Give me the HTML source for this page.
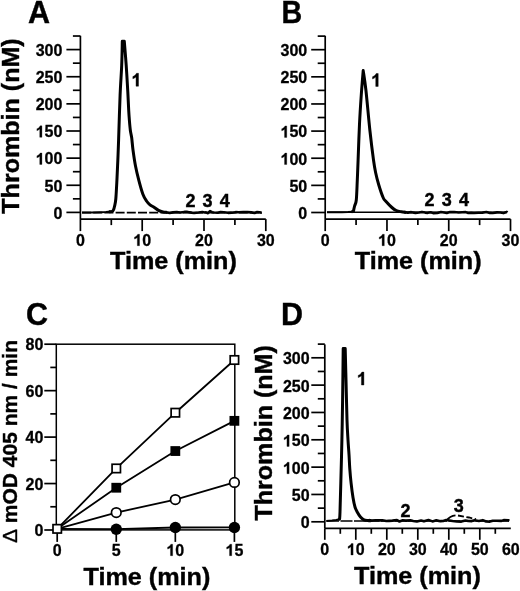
<!DOCTYPE html>
<html><head><meta charset="utf-8"><style>
html,body{margin:0;padding:0;background:#fff;width:520px;height:591px;overflow:hidden;}
svg{display:block;will-change:transform;}
text{stroke:#000;stroke-width:0.4px;}
</style></head><body>
<svg width="520" height="591" viewBox="0 0 520 591">
<g stroke="#000" fill="#000" font-family='"Liberation Sans", sans-serif' font-weight="bold">
<line x1="80.40" y1="35.80" x2="80.40" y2="219.10" stroke-width="1.7"/>
<line x1="66.40" y1="212.40" x2="80.40" y2="212.40" stroke-width="1.7"/>
<text x="53.50" y="218.70" font-size="16" style="stroke-width:0.3px">0</text>
<line x1="72.90" y1="198.83" x2="80.40" y2="198.83" stroke-width="1.7"/>
<line x1="66.40" y1="185.27" x2="80.40" y2="185.27" stroke-width="1.7"/>
<text x="44.61" y="191.57" font-size="16" style="stroke-width:0.3px">5</text>
<text x="53.50" y="191.57" font-size="16" style="stroke-width:0.3px">0</text>
<line x1="72.90" y1="171.70" x2="80.40" y2="171.70" stroke-width="1.7"/>
<line x1="66.40" y1="158.13" x2="80.40" y2="158.13" stroke-width="1.7"/>
<path transform="translate(35.71,164.43) scale(0.00781,-0.00781)" d="M797 0H516V1059Q362 915 153 846V1101Q263 1137 392 1237Q521 1338 569 1466H797Z" stroke-width="38.4"/>
<text x="44.61" y="164.43" font-size="16" style="stroke-width:0.3px">0</text>
<text x="53.50" y="164.43" font-size="16" style="stroke-width:0.3px">0</text>
<line x1="72.90" y1="144.56" x2="80.40" y2="144.56" stroke-width="1.7"/>
<line x1="66.40" y1="131.00" x2="80.40" y2="131.00" stroke-width="1.7"/>
<path transform="translate(35.71,137.30) scale(0.00781,-0.00781)" d="M797 0H516V1059Q362 915 153 846V1101Q263 1137 392 1237Q521 1338 569 1466H797Z" stroke-width="38.4"/>
<text x="44.61" y="137.30" font-size="16" style="stroke-width:0.3px">5</text>
<text x="53.50" y="137.30" font-size="16" style="stroke-width:0.3px">0</text>
<line x1="72.90" y1="117.43" x2="80.40" y2="117.43" stroke-width="1.7"/>
<line x1="66.40" y1="103.86" x2="80.40" y2="103.86" stroke-width="1.7"/>
<text x="35.71" y="110.16" font-size="16" style="stroke-width:0.3px">2</text>
<text x="44.61" y="110.16" font-size="16" style="stroke-width:0.3px">0</text>
<text x="53.50" y="110.16" font-size="16" style="stroke-width:0.3px">0</text>
<line x1="72.90" y1="90.29" x2="80.40" y2="90.29" stroke-width="1.7"/>
<line x1="66.40" y1="76.73" x2="80.40" y2="76.73" stroke-width="1.7"/>
<text x="35.71" y="83.03" font-size="16" style="stroke-width:0.3px">2</text>
<text x="44.61" y="83.03" font-size="16" style="stroke-width:0.3px">5</text>
<text x="53.50" y="83.03" font-size="16" style="stroke-width:0.3px">0</text>
<line x1="72.90" y1="63.16" x2="80.40" y2="63.16" stroke-width="1.7"/>
<line x1="66.40" y1="49.59" x2="80.40" y2="49.59" stroke-width="1.7"/>
<text x="35.71" y="55.89" font-size="16" style="stroke-width:0.3px">3</text>
<text x="44.61" y="55.89" font-size="16" style="stroke-width:0.3px">0</text>
<text x="53.50" y="55.89" font-size="16" style="stroke-width:0.3px">0</text>
<line x1="72.90" y1="36.02" x2="80.40" y2="36.02" stroke-width="1.7"/>
<line x1="80.40" y1="219.10" x2="265.80" y2="219.10" stroke-width="1.7"/>
<line x1="80.40" y1="219.10" x2="80.40" y2="231.10" stroke-width="1.7"/>
<text x="75.95" y="245.70" font-size="16" style="stroke-width:0.3px">0</text>
<line x1="111.30" y1="219.10" x2="111.30" y2="225.10" stroke-width="1.7"/>
<line x1="142.20" y1="219.10" x2="142.20" y2="231.10" stroke-width="1.7"/>
<path transform="translate(133.30,245.70) scale(0.00781,-0.00781)" d="M797 0H516V1059Q362 915 153 846V1101Q263 1137 392 1237Q521 1338 569 1466H797Z" stroke-width="38.4"/>
<text x="142.20" y="245.70" font-size="16" style="stroke-width:0.3px">0</text>
<line x1="173.10" y1="219.10" x2="173.10" y2="225.10" stroke-width="1.7"/>
<line x1="204.00" y1="219.10" x2="204.00" y2="231.10" stroke-width="1.7"/>
<text x="195.10" y="245.70" font-size="16" style="stroke-width:0.3px">2</text>
<text x="204.00" y="245.70" font-size="16" style="stroke-width:0.3px">0</text>
<line x1="234.90" y1="219.10" x2="234.90" y2="225.10" stroke-width="1.7"/>
<line x1="265.80" y1="219.10" x2="265.80" y2="231.10" stroke-width="1.7"/>
<text x="256.90" y="245.70" font-size="16" style="stroke-width:0.3px">3</text>
<text x="265.80" y="245.70" font-size="16" style="stroke-width:0.3px">0</text>
<line x1="82" y1="212.6" x2="262" y2="212.6" stroke-width="1.8" stroke-dasharray="9 2.2"/>
<path d="M82.00,212.40 L92.00,212.40 L100.00,212.20 L106.00,212.00 L111.00,211.60" fill="none" stroke-width="2.0" stroke-linejoin="round"/>
<path d="M109.00,211.80 C109.55,211.72 111.53,211.67 112.30,211.30 C113.07,210.93 113.22,210.48 113.60,209.60 C113.98,208.72 114.23,207.77 114.60,206.00 C114.97,204.23 115.42,203.23 115.80,199.00 C116.18,194.77 116.57,186.95 116.90,180.60 C117.23,174.25 117.52,167.67 117.80,160.90 C118.08,154.13 118.22,150.98 118.60,140.00 C118.98,129.02 119.58,107.43 120.10,95.00 C120.62,82.57 121.33,74.35 121.70,65.40 C122.07,56.45 122.20,45.32 122.30,41.30 C122.63,41.30 123.97,41.30 124.30,41.30 C124.62,45.32 125.63,57.28 126.20,65.40 C126.77,73.52 127.28,82.52 127.70,90.00 C128.12,97.48 128.42,105.22 128.70,110.30 C128.98,115.38 129.12,117.10 129.40,120.50 C129.68,123.90 130.02,127.82 130.40,130.70 C130.78,133.58 131.27,134.58 131.70,137.80 C132.13,141.02 132.37,145.30 133.00,150.00 C133.63,154.70 134.52,160.90 135.50,166.00 C136.48,171.10 137.67,175.90 138.90,180.60 C140.13,185.30 141.63,190.80 142.90,194.20 C144.17,197.60 145.32,199.23 146.50,201.00 C147.68,202.77 148.75,203.77 150.00,204.80 C151.25,205.83 152.58,206.27 154.00,207.20 C155.42,208.13 157.00,209.60 158.50,210.40 C160.00,211.20 161.58,211.67 163.00,212.00 C164.42,212.33 166.33,212.33 167.00,212.40" fill="none" stroke-width="3" stroke-linejoin="round"/>
<path d="M166.00,212.34 L169.63,212.91 L173.05,212.41 L176.74,212.02 L180.26,212.56 L184.38,211.91 L187.46,211.91 L191.61,212.63 L194.15,212.98 L198.63,212.58 L202.37,211.99 L204.85,212.43 L206.00,212.40 L208.00,213.20 L210.00,211.00 L212.00,212.20 L214.00,212.57 L217.83,212.80 L220.58,212.01 L223.82,212.33 L227.97,212.83 L231.68,212.67 L235.52,212.17 L238.89,212.19 L243.25,212.07 L247.42,212.09 L251.31,212.40 L254.61,213.01 L257.10,212.07 L261.47,212.61 L261.50,212.60" fill="none" stroke-width="2.6" stroke-linejoin="round"/>
<path transform="translate(131.50,86.20) scale(0.00879,-0.00879)" d="M797 0H516V1059Q362 915 153 846V1101Q263 1137 392 1237Q521 1338 569 1466H797Z" stroke-width="45.5"/>
<text x="185.50" y="206.70" font-size="18" style="stroke-width:0.4px">2</text>
<text x="202.60" y="206.70" font-size="18" style="stroke-width:0.4px">3</text>
<text x="219.80" y="206.70" font-size="18" style="stroke-width:0.4px">4</text>
<text transform="translate(173.40,269.00) scale(1.05,1)" font-size="24" text-anchor="middle">Time (min)</text>
<text transform="translate(18.80,126.00) rotate(-90) scale(1.045,1)" font-size="24" text-anchor="middle">Thrombin (nM)</text>
<text transform="translate(28.00,22.90) scale(0.96,1)" font-size="31.8" text-anchor="start">A</text>
<line x1="325.20" y1="35.80" x2="325.20" y2="219.10" stroke-width="1.7"/>
<line x1="311.20" y1="212.50" x2="325.20" y2="212.50" stroke-width="1.7"/>
<text x="298.30" y="218.80" font-size="16" style="stroke-width:0.3px">0</text>
<line x1="317.70" y1="198.93" x2="325.20" y2="198.93" stroke-width="1.7"/>
<line x1="311.20" y1="185.37" x2="325.20" y2="185.37" stroke-width="1.7"/>
<text x="289.41" y="191.67" font-size="16" style="stroke-width:0.3px">5</text>
<text x="298.30" y="191.67" font-size="16" style="stroke-width:0.3px">0</text>
<line x1="317.70" y1="171.80" x2="325.20" y2="171.80" stroke-width="1.7"/>
<line x1="311.20" y1="158.23" x2="325.20" y2="158.23" stroke-width="1.7"/>
<path transform="translate(280.51,164.53) scale(0.00781,-0.00781)" d="M797 0H516V1059Q362 915 153 846V1101Q263 1137 392 1237Q521 1338 569 1466H797Z" stroke-width="38.4"/>
<text x="289.41" y="164.53" font-size="16" style="stroke-width:0.3px">0</text>
<text x="298.30" y="164.53" font-size="16" style="stroke-width:0.3px">0</text>
<line x1="317.70" y1="144.66" x2="325.20" y2="144.66" stroke-width="1.7"/>
<line x1="311.20" y1="131.09" x2="325.20" y2="131.09" stroke-width="1.7"/>
<path transform="translate(280.51,137.40) scale(0.00781,-0.00781)" d="M797 0H516V1059Q362 915 153 846V1101Q263 1137 392 1237Q521 1338 569 1466H797Z" stroke-width="38.4"/>
<text x="289.41" y="137.40" font-size="16" style="stroke-width:0.3px">5</text>
<text x="298.30" y="137.40" font-size="16" style="stroke-width:0.3px">0</text>
<line x1="317.70" y1="117.53" x2="325.20" y2="117.53" stroke-width="1.7"/>
<line x1="311.20" y1="103.96" x2="325.20" y2="103.96" stroke-width="1.7"/>
<text x="280.51" y="110.26" font-size="16" style="stroke-width:0.3px">2</text>
<text x="289.41" y="110.26" font-size="16" style="stroke-width:0.3px">0</text>
<text x="298.30" y="110.26" font-size="16" style="stroke-width:0.3px">0</text>
<line x1="317.70" y1="90.39" x2="325.20" y2="90.39" stroke-width="1.7"/>
<line x1="311.20" y1="76.83" x2="325.20" y2="76.83" stroke-width="1.7"/>
<text x="280.51" y="83.13" font-size="16" style="stroke-width:0.3px">2</text>
<text x="289.41" y="83.13" font-size="16" style="stroke-width:0.3px">5</text>
<text x="298.30" y="83.13" font-size="16" style="stroke-width:0.3px">0</text>
<line x1="317.70" y1="63.26" x2="325.20" y2="63.26" stroke-width="1.7"/>
<line x1="311.20" y1="49.69" x2="325.20" y2="49.69" stroke-width="1.7"/>
<text x="280.51" y="55.99" font-size="16" style="stroke-width:0.3px">3</text>
<text x="289.41" y="55.99" font-size="16" style="stroke-width:0.3px">0</text>
<text x="298.30" y="55.99" font-size="16" style="stroke-width:0.3px">0</text>
<line x1="317.70" y1="36.12" x2="325.20" y2="36.12" stroke-width="1.7"/>
<line x1="325.20" y1="219.10" x2="510.51" y2="219.10" stroke-width="1.7"/>
<line x1="325.20" y1="219.10" x2="325.20" y2="231.10" stroke-width="1.7"/>
<text x="320.75" y="245.70" font-size="16" style="stroke-width:0.3px">0</text>
<line x1="356.08" y1="219.10" x2="356.08" y2="225.10" stroke-width="1.7"/>
<line x1="386.97" y1="219.10" x2="386.97" y2="231.10" stroke-width="1.7"/>
<path transform="translate(378.07,245.70) scale(0.00781,-0.00781)" d="M797 0H516V1059Q362 915 153 846V1101Q263 1137 392 1237Q521 1338 569 1466H797Z" stroke-width="38.4"/>
<text x="386.97" y="245.70" font-size="16" style="stroke-width:0.3px">0</text>
<line x1="417.86" y1="219.10" x2="417.86" y2="225.10" stroke-width="1.7"/>
<line x1="448.74" y1="219.10" x2="448.74" y2="231.10" stroke-width="1.7"/>
<text x="439.84" y="245.70" font-size="16" style="stroke-width:0.3px">2</text>
<text x="448.74" y="245.70" font-size="16" style="stroke-width:0.3px">0</text>
<line x1="479.62" y1="219.10" x2="479.62" y2="225.10" stroke-width="1.7"/>
<line x1="510.51" y1="219.10" x2="510.51" y2="231.10" stroke-width="1.7"/>
<text x="501.61" y="245.70" font-size="16" style="stroke-width:0.3px">3</text>
<text x="510.51" y="245.70" font-size="16" style="stroke-width:0.3px">0</text>
<line x1="327" y1="212.2" x2="507" y2="212.2" stroke-width="1.5"/>
<path d="M327.00,212.30 L335.00,212.30 L342.00,212.20 L348.00,212.00 L353.00,211.70" fill="none" stroke-width="2.0" stroke-linejoin="round"/>
<path d="M351.50,211.80 C351.82,211.73 353.08,211.47 353.40,211.40 C353.60,210.50 354.12,207.90 354.60,206.00 C355.08,204.10 355.85,204.33 356.30,200.00 C356.75,195.67 357.00,186.67 357.30,180.00 C357.60,173.33 357.73,169.33 358.10,160.00 C358.47,150.67 358.97,134.92 359.50,124.00 C360.03,113.08 360.68,103.40 361.30,94.50 C361.92,85.60 362.88,74.58 363.20,70.60 C363.65,73.83 364.78,80.02 365.90,90.00 C367.02,99.98 368.63,118.83 369.90,130.50 C371.17,142.17 372.55,153.00 373.50,160.00 C374.45,167.00 374.72,168.33 375.60,172.50 C376.48,176.67 377.55,180.83 378.80,185.00 C380.05,189.17 381.93,194.78 383.10,197.50 C384.27,200.22 384.33,199.63 385.80,201.30 C387.27,202.97 390.15,205.97 391.90,207.50 C393.65,209.03 394.73,209.78 396.30,210.50 C397.87,211.22 399.68,211.48 401.30,211.80 C402.92,212.12 405.22,212.30 406.00,212.40" fill="none" stroke-width="3" stroke-linejoin="round"/>
<path d="M404.00,212.10 L407.90,212.66 L411.35,212.16 L415.47,212.87 L419.00,212.51 L421.94,211.90 L425.17,212.60 L427.77,212.85 L430.70,212.18 L433.24,213.10 L437.24,212.95 L440.99,211.94 L444.13,212.50 L446.82,213.04 L450.04,212.09 L454.21,212.05 L458.61,212.44 L462.22,212.31 L465.69,212.12 L468.22,212.94 L471.16,212.84 L474.05,213.06 L478.37,212.81 L482.43,212.60 L486.41,212.05 L489.86,212.89 L492.73,213.01 L497.04,212.39 L500.26,212.44 L503.52,213.09 L506.78,211.93 L507.40,212.50" fill="none" stroke-width="2.6" stroke-linejoin="round"/>
<path transform="translate(371.20,86.40) scale(0.00879,-0.00879)" d="M797 0H516V1059Q362 915 153 846V1101Q263 1137 392 1237Q521 1338 569 1466H797Z" stroke-width="45.5"/>
<text x="424.60" y="206.30" font-size="18" style="stroke-width:0.4px">2</text>
<text x="441.80" y="206.30" font-size="18" style="stroke-width:0.4px">3</text>
<text x="459.10" y="206.30" font-size="18" style="stroke-width:0.4px">4</text>
<text transform="translate(418.20,268.80) scale(1.05,1)" font-size="24" text-anchor="middle">Time (min)</text>
<text transform="translate(281.50,22.60) scale(0.94,1)" font-size="30.5" text-anchor="start">B</text>
<rect x="56.3" y="344.2" width="178.50" height="185.70" fill="none" stroke-width="1.5"/>
<line x1="44.30" y1="530.00" x2="56.30" y2="530.00" stroke-width="1.7"/>
<text x="34.40" y="536.10" font-size="16" style="stroke-width:0.3px">0</text>
<line x1="50.30" y1="506.77" x2="56.30" y2="506.77" stroke-width="1.7"/>
<line x1="44.30" y1="483.55" x2="56.30" y2="483.55" stroke-width="1.7"/>
<text x="25.51" y="489.65" font-size="16" style="stroke-width:0.3px">2</text>
<text x="34.40" y="489.65" font-size="16" style="stroke-width:0.3px">0</text>
<line x1="50.30" y1="460.32" x2="56.30" y2="460.32" stroke-width="1.7"/>
<line x1="44.30" y1="437.10" x2="56.30" y2="437.10" stroke-width="1.7"/>
<text x="25.51" y="443.20" font-size="16" style="stroke-width:0.3px">4</text>
<text x="34.40" y="443.20" font-size="16" style="stroke-width:0.3px">0</text>
<line x1="50.30" y1="413.88" x2="56.30" y2="413.88" stroke-width="1.7"/>
<line x1="44.30" y1="390.65" x2="56.30" y2="390.65" stroke-width="1.7"/>
<text x="25.51" y="396.75" font-size="16" style="stroke-width:0.3px">6</text>
<text x="34.40" y="396.75" font-size="16" style="stroke-width:0.3px">0</text>
<line x1="50.30" y1="367.43" x2="56.30" y2="367.43" stroke-width="1.7"/>
<line x1="44.30" y1="344.20" x2="56.30" y2="344.20" stroke-width="1.7"/>
<text x="25.51" y="350.30" font-size="16" style="stroke-width:0.3px">8</text>
<text x="34.40" y="350.30" font-size="16" style="stroke-width:0.3px">0</text>
<line x1="57.20" y1="529.90" x2="57.20" y2="541.90" stroke-width="1.7"/>
<text x="52.75" y="555.70" font-size="16" style="stroke-width:0.3px">0</text>
<line x1="116.27" y1="529.90" x2="116.27" y2="541.90" stroke-width="1.7"/>
<text x="111.82" y="555.70" font-size="16" style="stroke-width:0.3px">5</text>
<line x1="175.33" y1="529.90" x2="175.33" y2="541.90" stroke-width="1.7"/>
<path transform="translate(166.43,555.70) scale(0.00781,-0.00781)" d="M797 0H516V1059Q362 915 153 846V1101Q263 1137 392 1237Q521 1338 569 1466H797Z" stroke-width="38.4"/>
<text x="175.33" y="555.70" font-size="16" style="stroke-width:0.3px">0</text>
<line x1="234.40" y1="529.90" x2="234.40" y2="541.90" stroke-width="1.7"/>
<path transform="translate(225.50,555.70) scale(0.00781,-0.00781)" d="M797 0H516V1059Q362 915 153 846V1101Q263 1137 392 1237Q521 1338 569 1466H797Z" stroke-width="38.4"/>
<text x="234.40" y="555.70" font-size="16" style="stroke-width:0.3px">5</text>
<path d="M57.20,528.84 L116.27,468.45 L175.33,412.71 L234.40,359.99" fill="none" stroke-width="1.8" />
<path d="M57.20,528.84 L116.27,487.73 L175.33,451.04 L234.40,420.84" fill="none" stroke-width="1.8" />
<path d="M57.20,528.84 L116.27,512.58 L175.33,499.58 L234.40,482.39" fill="none" stroke-width="1.8" />
<path d="M57.20,528.84 L116.27,529.19 L175.33,527.49 L234.40,527.45" fill="none" stroke-width="1.8" />
<rect x="53.00" y="524.64" width="8.4" height="8.4" fill="#fff" stroke-width="1.7"/>
<rect x="112.07" y="464.25" width="8.4" height="8.4" fill="#fff" stroke-width="1.7"/>
<rect x="171.13" y="408.51" width="8.4" height="8.4" fill="#fff" stroke-width="1.7"/>
<rect x="230.20" y="355.79" width="8.4" height="8.4" fill="#fff" stroke-width="1.7"/>
<rect x="111.37" y="482.83" width="9.8" height="9.8" stroke="none"/>
<rect x="170.43" y="446.14" width="9.8" height="9.8" stroke="none"/>
<rect x="229.50" y="415.94" width="9.8" height="9.8" stroke="none"/>
<circle cx="116.27" cy="512.58" r="4.8" fill="#fff" stroke-width="1.7"/>
<circle cx="175.33" cy="499.58" r="4.8" fill="#fff" stroke-width="1.7"/>
<circle cx="234.40" cy="482.39" r="4.8" fill="#fff" stroke-width="1.7"/>
<circle cx="116.27" cy="529.19" r="5.7" stroke="none"/>
<circle cx="175.33" cy="527.49" r="5.7" stroke="none"/>
<circle cx="234.40" cy="527.45" r="5.7" stroke="none"/>
<text transform="translate(146.90,584.50) scale(1.05,1)" font-size="24" text-anchor="middle">Time (min)</text>
<text transform="translate(16.90,441.50) rotate(-90) scale(1.0,1)" font-size="21" text-anchor="middle"><tspan font-weight="normal">&#916;</tspan> mOD 405 nm / min</text>
<text transform="translate(25.90,324.90) scale(0.96,1)" font-size="31.8" text-anchor="start">C</text>
<line x1="324.80" y1="344.40" x2="324.80" y2="528.30" stroke-width="1.7"/>
<line x1="311.30" y1="521.80" x2="324.80" y2="521.80" stroke-width="1.7"/>
<text x="300.70" y="528.40" font-size="16" style="stroke-width:0.3px">0</text>
<line x1="317.80" y1="508.13" x2="324.80" y2="508.13" stroke-width="1.7"/>
<line x1="311.30" y1="494.46" x2="324.80" y2="494.46" stroke-width="1.7"/>
<text x="291.81" y="501.06" font-size="16" style="stroke-width:0.3px">5</text>
<text x="300.70" y="501.06" font-size="16" style="stroke-width:0.3px">0</text>
<line x1="317.80" y1="480.80" x2="324.80" y2="480.80" stroke-width="1.7"/>
<line x1="311.30" y1="467.13" x2="324.80" y2="467.13" stroke-width="1.7"/>
<path transform="translate(282.91,473.73) scale(0.00781,-0.00781)" d="M797 0H516V1059Q362 915 153 846V1101Q263 1137 392 1237Q521 1338 569 1466H797Z" stroke-width="38.4"/>
<text x="291.81" y="473.73" font-size="16" style="stroke-width:0.3px">0</text>
<text x="300.70" y="473.73" font-size="16" style="stroke-width:0.3px">0</text>
<line x1="317.80" y1="453.46" x2="324.80" y2="453.46" stroke-width="1.7"/>
<line x1="311.30" y1="439.79" x2="324.80" y2="439.79" stroke-width="1.7"/>
<path transform="translate(282.91,446.39) scale(0.00781,-0.00781)" d="M797 0H516V1059Q362 915 153 846V1101Q263 1137 392 1237Q521 1338 569 1466H797Z" stroke-width="38.4"/>
<text x="291.81" y="446.39" font-size="16" style="stroke-width:0.3px">5</text>
<text x="300.70" y="446.39" font-size="16" style="stroke-width:0.3px">0</text>
<line x1="317.80" y1="426.13" x2="324.80" y2="426.13" stroke-width="1.7"/>
<line x1="311.30" y1="412.46" x2="324.80" y2="412.46" stroke-width="1.7"/>
<text x="282.91" y="419.06" font-size="16" style="stroke-width:0.3px">2</text>
<text x="291.81" y="419.06" font-size="16" style="stroke-width:0.3px">0</text>
<text x="300.70" y="419.06" font-size="16" style="stroke-width:0.3px">0</text>
<line x1="317.80" y1="398.79" x2="324.80" y2="398.79" stroke-width="1.7"/>
<line x1="311.30" y1="385.12" x2="324.80" y2="385.12" stroke-width="1.7"/>
<text x="282.91" y="391.73" font-size="16" style="stroke-width:0.3px">2</text>
<text x="291.81" y="391.73" font-size="16" style="stroke-width:0.3px">5</text>
<text x="300.70" y="391.73" font-size="16" style="stroke-width:0.3px">0</text>
<line x1="317.80" y1="371.46" x2="324.80" y2="371.46" stroke-width="1.7"/>
<line x1="311.30" y1="357.79" x2="324.80" y2="357.79" stroke-width="1.7"/>
<text x="282.91" y="364.39" font-size="16" style="stroke-width:0.3px">3</text>
<text x="291.81" y="364.39" font-size="16" style="stroke-width:0.3px">0</text>
<text x="300.70" y="364.39" font-size="16" style="stroke-width:0.3px">0</text>
<line x1="317.80" y1="344.12" x2="324.80" y2="344.12" stroke-width="1.7"/>
<line x1="324.80" y1="528.30" x2="510.80" y2="528.30" stroke-width="1.7"/>
<line x1="324.80" y1="528.30" x2="324.80" y2="539.80" stroke-width="1.7"/>
<text x="320.35" y="555.00" font-size="16" style="stroke-width:0.3px">0</text>
<line x1="340.30" y1="528.30" x2="340.30" y2="533.80" stroke-width="1.7"/>
<line x1="355.80" y1="528.30" x2="355.80" y2="539.80" stroke-width="1.7"/>
<path transform="translate(346.90,555.00) scale(0.00781,-0.00781)" d="M797 0H516V1059Q362 915 153 846V1101Q263 1137 392 1237Q521 1338 569 1466H797Z" stroke-width="38.4"/>
<text x="355.80" y="555.00" font-size="16" style="stroke-width:0.3px">0</text>
<line x1="371.30" y1="528.30" x2="371.30" y2="533.80" stroke-width="1.7"/>
<line x1="386.80" y1="528.30" x2="386.80" y2="539.80" stroke-width="1.7"/>
<text x="377.90" y="555.00" font-size="16" style="stroke-width:0.3px">2</text>
<text x="386.80" y="555.00" font-size="16" style="stroke-width:0.3px">0</text>
<line x1="402.30" y1="528.30" x2="402.30" y2="533.80" stroke-width="1.7"/>
<line x1="417.80" y1="528.30" x2="417.80" y2="539.80" stroke-width="1.7"/>
<text x="408.90" y="555.00" font-size="16" style="stroke-width:0.3px">3</text>
<text x="417.80" y="555.00" font-size="16" style="stroke-width:0.3px">0</text>
<line x1="433.30" y1="528.30" x2="433.30" y2="533.80" stroke-width="1.7"/>
<line x1="448.80" y1="528.30" x2="448.80" y2="539.80" stroke-width="1.7"/>
<text x="439.90" y="555.00" font-size="16" style="stroke-width:0.3px">4</text>
<text x="448.80" y="555.00" font-size="16" style="stroke-width:0.3px">0</text>
<line x1="464.30" y1="528.30" x2="464.30" y2="533.80" stroke-width="1.7"/>
<line x1="479.80" y1="528.30" x2="479.80" y2="539.80" stroke-width="1.7"/>
<text x="470.90" y="555.00" font-size="16" style="stroke-width:0.3px">5</text>
<text x="479.80" y="555.00" font-size="16" style="stroke-width:0.3px">0</text>
<line x1="495.30" y1="528.30" x2="495.30" y2="533.80" stroke-width="1.7"/>
<text x="501.90" y="555.00" font-size="16" style="stroke-width:0.3px">6</text>
<text x="510.80" y="555.00" font-size="16" style="stroke-width:0.3px">0</text>
<line x1="327" y1="521.0" x2="509" y2="521.0" stroke-width="1.5" stroke-dasharray="12 1.5"/>
<path d="M326.2,521 L332,520.6 L336,520.1 L339,519.6" fill="none" stroke-width="2"/>
<path d="M338.50,519.70 C338.68,519.58 339.42,519.12 339.60,519.00 C339.67,517.83 339.80,517.97 340.00,512.00 C340.20,506.03 340.48,495.20 340.80,483.20 C341.12,471.20 341.60,453.87 341.90,440.00 C342.20,426.13 342.38,415.23 342.60,400.00 C342.82,384.77 343.10,357.17 343.20,348.60 C343.53,348.60 344.87,348.60 345.20,348.60 C345.33,353.83 345.70,368.10 346.00,380.00 C346.30,391.90 346.67,410.00 347.00,420.00 C347.33,430.00 347.67,434.27 348.00,440.00 C348.33,445.73 348.70,449.60 349.00,454.40 C349.30,459.20 349.45,464.00 349.80,468.80 C350.15,473.60 350.57,478.40 351.10,483.20 C351.63,488.00 352.35,493.63 353.00,497.60 C353.65,501.57 354.25,504.52 355.00,507.00 C355.75,509.48 356.58,510.83 357.50,512.50 C358.42,514.17 359.42,515.78 360.50,517.00 C361.58,518.22 362.75,519.22 364.00,519.80 C365.25,520.38 366.83,520.33 368.00,520.50 C369.17,520.67 370.50,520.75 371.00,520.80" fill="none" stroke-width="3" stroke-linejoin="round"/>
<path d="M369.00,520.02 L371.69,520.63 L375.57,520.22 L378.26,520.37 L382.30,520.24 L386.30,521.06 L389.04,520.86 L392.43,520.66 L396.97,520.15 L399.47,521.50 L402.76,520.32 L405.91,520.58 L410.36,520.34 L413.27,520.94 L416.87,521.53 L421.08,520.57 L423.96,521.34 L428.48,520.05 L432.48,521.39 L436.29,520.35 L440.42,521.17 L443.27,521.03 L446.18,520.07 L449.34,520.53 L452.62,521.03 L456.83,521.54 L461.33,521.59 L465.44,520.49 L468.26,521.00 L471.85,521.08 L474.50,520.31 L478.88,520.96 L482.79,520.15 L486.08,521.46 L489.90,521.59 L492.76,520.73 L496.89,520.71 L501.00,520.90 L503.70,520.16 L508.21,520.19 L509.30,520.80" fill="none" stroke-width="2.6" stroke-linejoin="round"/>
<path d="M446,521 Q450,516 455.5,515.4" fill="none" stroke-width="1.8"/>
<path d="M458,515.5 L469,517.5 L476,519.2" fill="none" stroke-width="1.8" stroke-dasharray="6 2.5"/>
<path transform="translate(356.90,385.00) scale(0.00879,-0.00879)" d="M797 0H516V1059Q362 915 153 846V1101Q263 1137 392 1237Q521 1338 569 1466H797Z" stroke-width="45.5"/>
<text x="400.40" y="517.30" font-size="18" style="stroke-width:0.4px">2</text>
<text x="453.80" y="511.90" font-size="18" style="stroke-width:0.4px">3</text>
<text transform="translate(417.40,583.80) scale(1.05,1)" font-size="24" text-anchor="middle">Time (min)</text>
<text transform="translate(272.10,432.90) rotate(-90) scale(1.045,1)" font-size="24" text-anchor="middle">Thrombin (nM)</text>
<text transform="translate(281.00,324.80) scale(0.96,1)" font-size="31.8" text-anchor="start">D</text>
</g>
</svg>
</body></html>
